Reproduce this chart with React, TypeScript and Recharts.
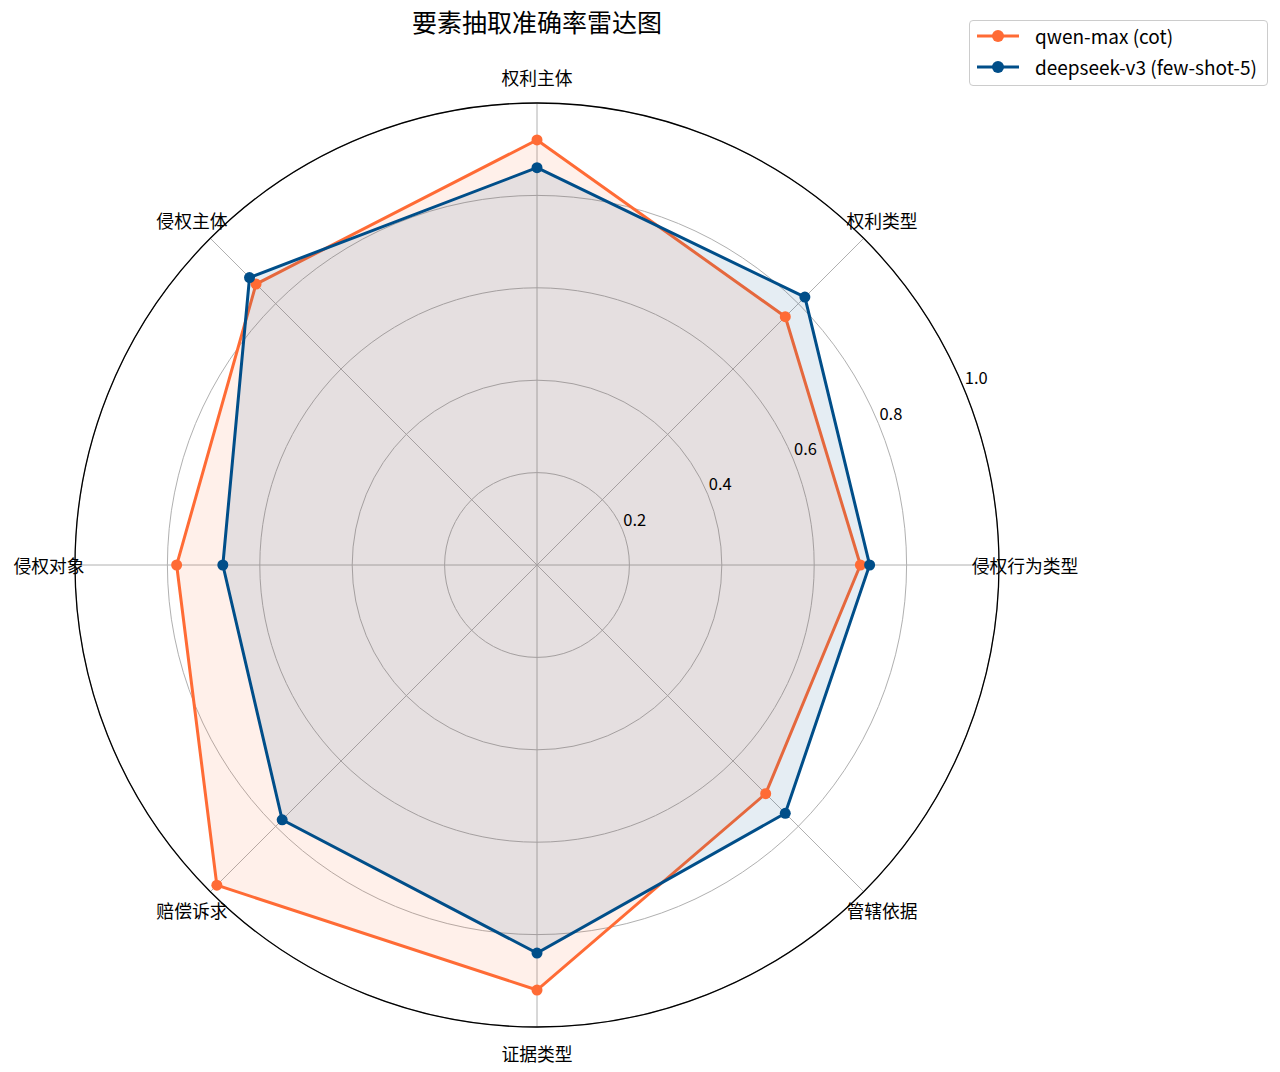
import React from 'react';
import { RadarChart, Radar, PolarGrid, PolarAngleAxis, PolarRadiusAxis, Legend } from 'recharts';

// Categories listed clockwise starting from the top of the chart
const categories = ['权利主体', '权利类型', '侵权行为类型', '管辖依据', '证据类型', '赔偿诉求', '侵权对象', '侵权主体'];
const qwenMax = [0.92, 0.76, 0.70, 0.70, 0.92, 0.98, 0.78, 0.86];
const deepseekV3 = [0.86, 0.82, 0.72, 0.76, 0.84, 0.78, 0.68, 0.88];
const radiusDomain = [0, 1];
const seriesNames = ['qwen-max (cot)', 'deepseek-v3 (few-shot-5)'];
const seriesColors = ['#FF6B35', '#004E89'];
const title = '要素抽取准确率雷达图';

const data = categories.map((c, i) => ({ cat: c, qwen: qwenMax[i], deepseek: deepseekV3[i] }));

const FONT = '"Noto Sans CJK SC", "Noto Sans", sans-serif';

const AngleTick = (props: any) => {
  const { x, y, payload } = props;
  return (
    <text x={x} y={y} textAnchor="middle" dominantBaseline="central" fontSize={17.8} fill="#000" fontFamily={FONT}>
      {payload.value}
    </text>
  );
};

const RadiusTick = (props: any) => {
  const { x, y, payload } = props;
  if (!payload || payload.value === 0) return null;
  return (
    <text x={x + 1} y={y - 4} textAnchor="start" fontSize={16.5} fill="#000" fontFamily={FONT}>
      {Number(payload.value).toFixed(1)}
    </text>
  );
};

const LegendContent = () => (
  <div
    style={{
      border: '1px solid #cccccc',
      borderRadius: 4,
      background: '#fff',
      padding: '0px 6px 3px 7px',
      fontFamily: FONT,
      fontSize: 19,
      width: 299,
      boxSizing: 'border-box',
      whiteSpace: 'nowrap',
      color: '#000',
    }}
  >
    {seriesNames.map((n, i) => (
      <div key={n} style={{ display: 'flex', alignItems: 'center', height: 31, marginTop: i === 0 ? -1 : 0 }}>
        <svg width={42} height={14} style={{ marginRight: 16, flex: 'none' }}>
          <line x1={0} y1={7} x2={42} y2={7} stroke={seriesColors[i]} strokeWidth={3} />
          <circle cx={21} cy={7} r={6} fill={seriesColors[i]} />
        </svg>
        <span>{n}</span>
      </div>
    ))}
  </div>
);

export default function App() {
  return (
    <div style={{ position: 'absolute', left: 0, top: 0, width: 1280, height: 1072, background: '#fff' }}>
      <div
        style={{
          position: 'absolute',
          left: 0,
          width: 1074,
          top: 3,
          textAlign: 'center',
          fontFamily: FONT,
          fontSize: 25,
          color: '#000',
        }}
      >
        {title}
      </div>
      <RadarChart
        width={1280}
        height={1072}
        data={data}
        cx={537}
        cy={565}
        outerRadius={462}
        startAngle={90}
        endAngle={-270}
        margin={{ top: 0, right: 0, bottom: 0, left: 0 }}
      >
        <PolarGrid gridType="circle" stroke="#b0b0b0" strokeWidth={1} />
        <PolarAngleAxis
          dataKey="cat"
          tick={<AngleTick />}
          tickLine={false}
          tickSize={26}
          axisLine={{ stroke: '#000', strokeWidth: 1.3 }}
          axisLineType="circle"
          stroke="#000"
        />
        <PolarRadiusAxis
          angle={22.5}
          domain={radiusDomain}
          type="number"
          tickCount={6}
          allowDecimals={true}
          axisLine={false}
          tickLine={false}
          tick={<RadiusTick />}
        />
        <Radar
          name={seriesNames[0]}
          dataKey="qwen"
          stroke={seriesColors[0]}
          strokeWidth={3}
          fill={seriesColors[0]}
          fillOpacity={0.1}
          dot={{ r: 5.5, fill: seriesColors[0], stroke: seriesColors[0], strokeWidth: 0, fillOpacity: 1 }}
          isAnimationActive={false}
        />
        <Radar
          name={seriesNames[1]}
          dataKey="deepseek"
          stroke={seriesColors[1]}
          strokeWidth={3}
          fill={seriesColors[1]}
          fillOpacity={0.1}
          dot={{ r: 5.5, fill: seriesColors[1], stroke: seriesColors[1], strokeWidth: 0, fillOpacity: 1 }}
          isAnimationActive={false}
        />
        <Legend
          content={<LegendContent />}
          layout="vertical"
          verticalAlign="top"
          align="right"
          wrapperStyle={{ position: 'absolute', left: 969, top: 20, width: 299 }}
        />
      </RadarChart>
    </div>
  );
}
